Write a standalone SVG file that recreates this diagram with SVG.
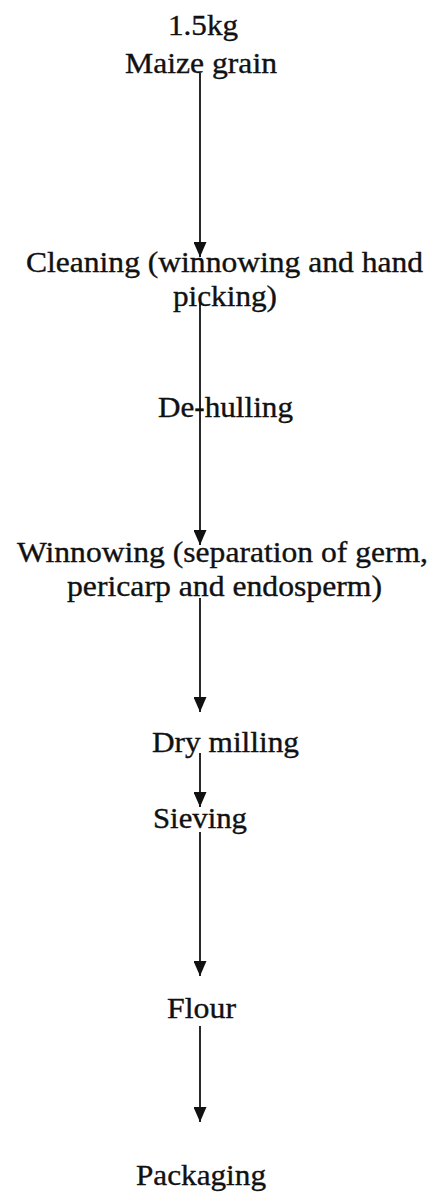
<svg xmlns="http://www.w3.org/2000/svg" width="438" height="1196" viewBox="0 0 438 1196">
<defs>
<style>
text{font-family:"Liberation Serif","Times New Roman",serif;font-size:29px;fill:#111;stroke:#111;stroke-width:0.35;}
.c line{stroke:#111;stroke-width:1.8;}
</style>
<marker id="ah" markerUnits="userSpaceOnUse" markerWidth="15" markerHeight="13" refX="15" refY="6.5" orient="auto">
<path d="M0,0 L15,6.5 L0,13 z" fill="#111"/>
</marker>
</defs>
<rect width="438" height="1196" fill="#fff"/>
<g id="n1"><text x="168" y="35" textLength="70" lengthAdjust="spacingAndGlyphs">1.5kg</text><text x="125" y="73" textLength="152" lengthAdjust="spacingAndGlyphs">Maize grain</text></g>
<g id="n2"><text x="26" y="272" textLength="397" lengthAdjust="spacingAndGlyphs">Cleaning (winnowing and hand</text><text x="173" y="306" textLength="104" lengthAdjust="spacingAndGlyphs">picking)</text></g>
<g id="n3"><text x="158" y="417" textLength="135" lengthAdjust="spacingAndGlyphs">De-hulling</text></g>
<g id="n4"><text x="17" y="562" textLength="411" lengthAdjust="spacingAndGlyphs">Winnowing (separation of germ,</text><text x="67" y="596" textLength="315" lengthAdjust="spacingAndGlyphs">pericarp and endosperm)</text></g>
<g id="n5"><text x="152" y="752" textLength="147" lengthAdjust="spacingAndGlyphs">Dry milling</text></g>
<g id="n6"><text x="153" y="828" textLength="94" lengthAdjust="spacingAndGlyphs">Sieving</text></g>
<g id="n7"><text x="167" y="1018" textLength="69" lengthAdjust="spacingAndGlyphs">Flour</text></g>
<g id="n8"><text x="136" y="1185" textLength="130" lengthAdjust="spacingAndGlyphs">Packaging</text></g>
<g id="connectors" class="c">
<line x1="200" y1="73" x2="200" y2="257" marker-end="url(#ah)"/>
<line x1="200" y1="297" x2="200" y2="545" marker-end="url(#ah)"/>
<line x1="200" y1="598" x2="200" y2="712" marker-end="url(#ah)"/>
<line x1="200" y1="753" x2="200" y2="807" marker-end="url(#ah)"/>
<line x1="200" y1="832" x2="200" y2="976" marker-end="url(#ah)"/>
<line x1="200" y1="1026" x2="200" y2="1122" marker-end="url(#ah)"/>
</g>
</svg>
